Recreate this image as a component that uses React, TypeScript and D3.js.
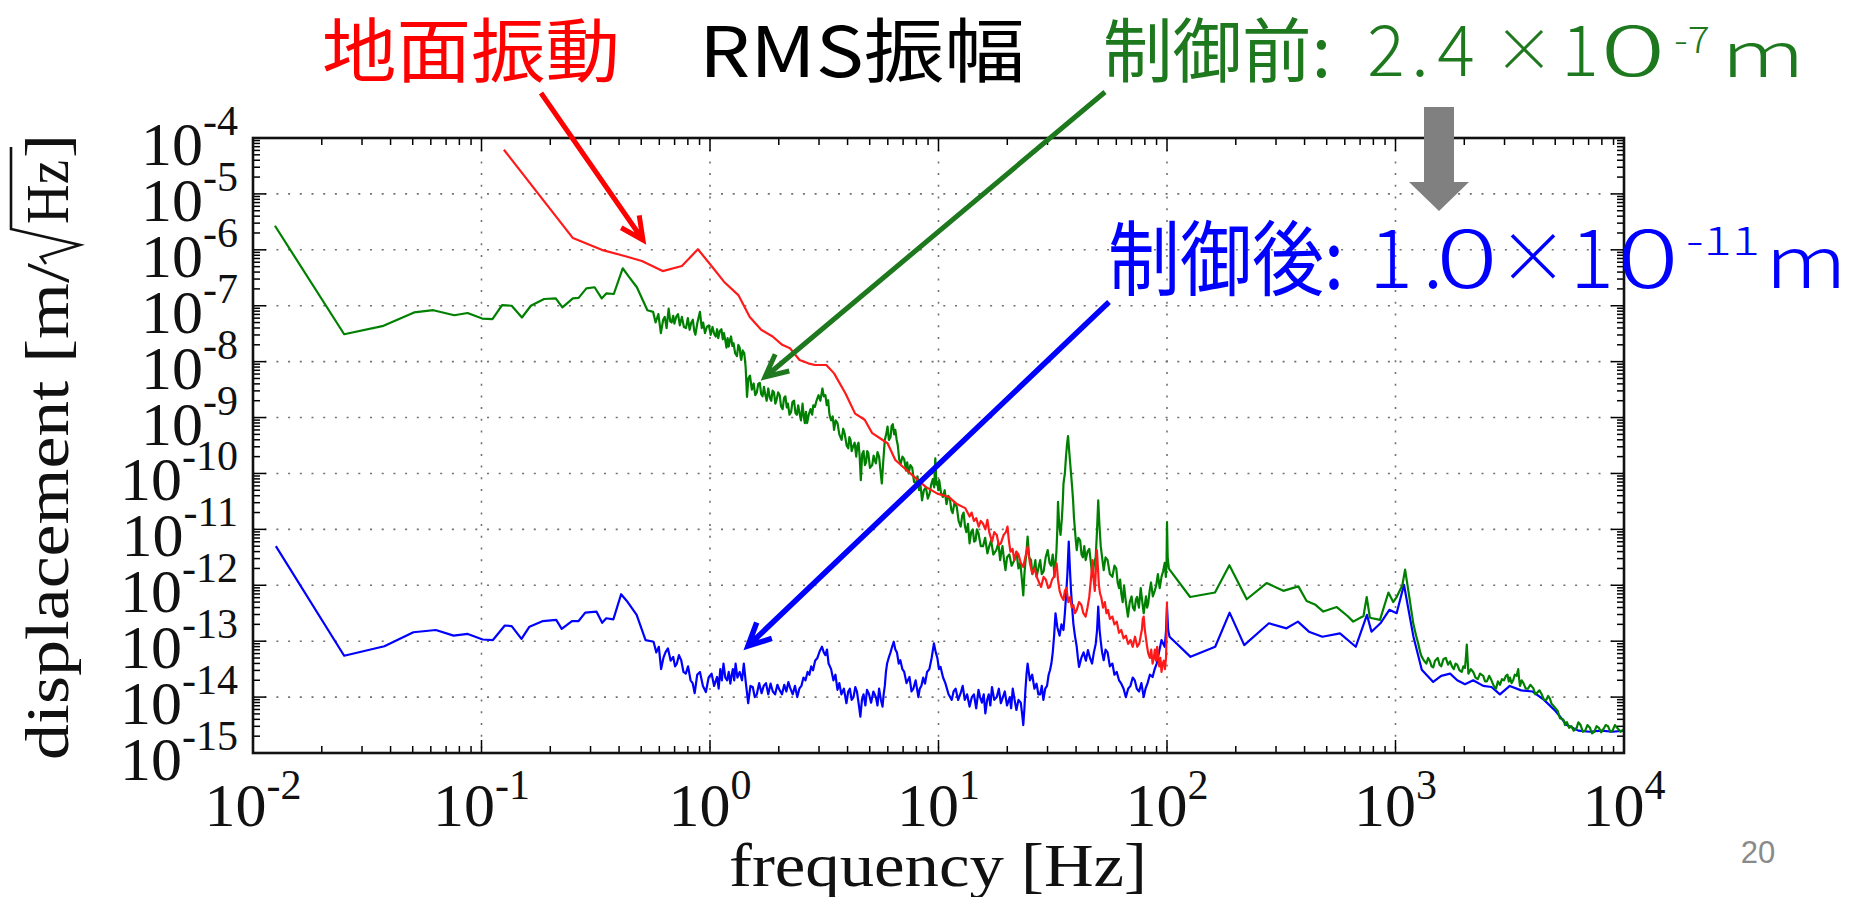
import React from "react";
import * as d3 from "d3";

const WIDTH = 1862;
const HEIGHT = 897;
const PLOT = { left: 253, right: 1624, top: 138, bottom: 753 };

// Axis decades (tick labels are 10^exponent)
const X_EXPONENTS = [-2, -1, 0, 1, 2, 3, 4];
const Y_EXPONENTS = [-4, -5, -6, -7, -8, -9, -10, -11, -12, -13, -14, -15];
const MINOR_MULTIPLES = [2, 3, 4, 5, 6, 7, 8, 9];

// Spectra as [log10 frequency (Hz), log10 displacement (m/√Hz)]
// Ground vibration (red)
const GROUND: [number, number][] = [
  [-0.902, -4.21], [-0.6, -5.79], [-0.474, -6.0], [-0.374, -6.11], [-0.298, -6.2],
  [-0.207, -6.38], [-0.123, -6.29], [-0.053, -5.99], [0.005, -6.28], [0.061, -6.57],
  [0.124, -6.81], [0.174, -7.2], [0.224, -7.43], [0.274, -7.55], [0.316, -7.7],
  [0.35, -7.76], [0.392, -7.97], [0.43, -8.03], [0.459, -8.06], [0.509, -8.06],
  [0.543, -8.21], [0.593, -8.57], [0.635, -8.93], [0.677, -9.04], [0.71, -9.28],
  [0.744, -9.37], [0.777, -9.46], [0.811, -9.76], [0.844, -9.88], [0.894, -10.06],
  [0.944, -10.24], [0.995, -10.36], [1.045, -10.42], [1.078, -10.54], [1.117, -10.62],
  [1.127, -10.7], [1.136, -10.77], [1.145, -10.7], [1.155, -10.85], [1.165, -10.8],
  [1.176, -10.95], [1.185, -10.85], [1.195, -10.9], [1.205, -11.0], [1.214, -10.83],
  [1.222, -11.05], [1.234, -11.22], [1.244, -11.05], [1.255, -11.1], [1.264, -11.28],
  [1.273, -11.25], [1.285, -11.1], [1.295, -11.05], [1.302, -10.95], [1.308, -11.2],
  [1.315, -11.4], [1.324, -11.35], [1.332, -11.55], [1.341, -11.4], [1.35, -11.45],
  [1.36, -11.6], [1.371, -11.67], [1.38, -11.5], [1.39, -11.31], [1.4, -11.6],
  [1.41, -11.79], [1.42, -11.7], [1.43, -11.85], [1.44, -11.95], [1.449, -12.03],
  [1.46, -11.85], [1.47, -11.9], [1.48, -12.05], [1.488, -12.03], [1.497, -11.9],
  [1.505, -11.85], [1.511, -11.7], [1.517, -11.61], [1.523, -11.9], [1.53, -12.1],
  [1.538, -12.2], [1.547, -12.26], [1.553, -12.1], [1.56, -12.05], [1.568, -12.3],
  [1.576, -12.21], [1.583, -12.4], [1.59, -12.35], [1.597, -12.5], [1.605, -12.44],
  [1.615, -12.3], [1.625, -12.35], [1.634, -12.5], [1.644, -12.56], [1.652, -12.4],
  [1.66, -12.2], [1.667, -11.9], [1.674, -11.55], [1.679, -11.9], [1.684, -12.1],
  [1.689, -11.7], [1.693, -11.37], [1.698, -11.7], [1.702, -12.0], [1.707, -12.15],
  [1.712, -12.21], [1.72, -12.4], [1.728, -12.3], [1.735, -12.5], [1.742, -12.44],
  [1.75, -12.6], [1.761, -12.56], [1.77, -12.7], [1.78, -12.65], [1.79, -12.85],
  [1.8, -12.8], [1.81, -12.95], [1.82, -12.9], [1.83, -13.05], [1.84, -12.98],
  [1.85, -13.1], [1.86, -12.92], [1.87, -13.1], [1.879, -13.04], [1.885, -12.9],
  [1.89, -12.8], [1.894, -12.6], [1.898, -12.56], [1.903, -12.8], [1.908, -12.95],
  [1.913, -13.1], [1.918, -13.22], [1.925, -13.3], [1.931, -13.15], [1.937, -13.4],
  [1.942, -13.3], [1.947, -13.15], [1.952, -13.35], [1.957, -13.1], [1.962, -13.3],
  [1.966, -13.45], [1.971, -13.3], [1.976, -13.55], [1.981, -13.4], [1.986, -13.35],
  [1.991, -13.5], [1.996, -13.28], [1.998, -12.9], [2.0, -12.29],
];

// Before control (green)
const BEFORE: [number, number][] = [
  [-1.904, -5.57], [-1.601, -7.51], [-1.429, -7.36], [-1.295, -7.12], [-1.211, -7.08],
  [-1.119, -7.17], [-1.061, -7.13], [-0.997, -7.23], [-0.952, -7.24], [-0.91, -6.99],
  [-0.868, -7.0], [-0.823, -7.21], [-0.784, -7.0], [-0.726, -6.88], [-0.675, -6.87],
  [-0.646, -7.03], [-0.6, -6.87], [-0.575, -6.86], [-0.541, -6.69], [-0.505, -6.67],
  [-0.474, -6.87], [-0.454, -6.78], [-0.421, -6.79], [-0.382, -6.33], [-0.357, -6.47],
  [-0.32, -6.67], [-0.274, -7.08],
  [-0.249, -7.11], [-0.238, -7.3], [-0.226, -7.15], [-0.215, -7.49], [-0.205, -7.25],
  [-0.198, -7.2], [-0.19, -7.4], [-0.181, -7.05], [-0.174, -7.28], [-0.168, -7.3],
  [-0.161, -7.18], [-0.156, -7.32], [-0.148, -7.2], [-0.14, -7.15], [-0.132, -7.35],
  [-0.123, -7.2], [-0.114, -7.38], [-0.105, -7.4], [-0.097, -7.22], [-0.089, -7.43],
  [-0.082, -7.3], [-0.075, -7.25], [-0.069, -7.45], [-0.064, -7.52], [-0.055, -7.3],
  [-0.044, -7.11], [-0.036, -7.4], [-0.03, -7.3], [-0.022, -7.49], [-0.014, -7.38],
  [-0.005, -7.35], [0.003, -7.52], [0.011, -7.38], [0.018, -7.5], [0.025, -7.55],
  [0.031, -7.42], [0.036, -7.58], [0.043, -7.45], [0.05, -7.42], [0.056, -7.6],
  [0.061, -7.49], [0.067, -7.62], [0.072, -7.75], [0.077, -7.58], [0.082, -7.73],
  [0.088, -7.6], [0.092, -7.55], [0.098, -7.72], [0.103, -7.67], [0.11, -7.85],
  [0.118, -7.9], [0.124, -7.7], [0.13, -7.75], [0.134, -7.92], [0.137, -7.97],
  [0.143, -7.8], [0.15, -7.85], [0.156, -8.1], [0.162, -8.63], [0.168, -8.3],
  [0.175, -8.25], [0.183, -8.5], [0.191, -8.39], [0.198, -8.6], [0.205, -8.55],
  [0.211, -8.4], [0.218, -8.38], [0.224, -8.58], [0.23, -8.62], [0.236, -8.45],
  [0.241, -8.57], [0.248, -8.7], [0.255, -8.48], [0.262, -8.65], [0.268, -8.7],
  [0.274, -8.52], [0.28, -8.55], [0.286, -8.75], [0.291, -8.69], [0.298, -8.55],
  [0.305, -8.6], [0.311, -8.8], [0.318, -8.85], [0.324, -8.65], [0.33, -8.62],
  [0.336, -8.82], [0.341, -8.75], [0.348, -8.95], [0.355, -8.9], [0.361, -8.72],
  [0.368, -8.7], [0.374, -8.92], [0.38, -8.95], [0.386, -8.78], [0.392, -8.93],
  [0.398, -9.05], [0.405, -8.75], [0.41, -8.98], [0.415, -9.1], [0.42, -8.9],
  [0.425, -9.1], [0.432, -8.95], [0.44, -8.85], [0.447, -8.95], [0.452, -8.78],
  [0.459, -8.81], [0.466, -8.7], [0.475, -8.6], [0.483, -8.7], [0.492, -8.48],
  [0.498, -8.62], [0.505, -8.6], [0.511, -8.78], [0.517, -8.69], [0.523, -8.95],
  [0.53, -9.05], [0.537, -8.98], [0.543, -9.22], [0.55, -9.05], [0.558, -9.1],
  [0.566, -9.3], [0.576, -9.4], [0.583, -9.2], [0.59, -9.3], [0.598, -9.5],
  [0.605, -9.55], [0.61, -9.35], [0.615, -9.4], [0.62, -9.6], [0.626, -9.52],
  [0.633, -9.45], [0.64, -9.7], [0.645, -9.5], [0.65, -9.45], [0.655, -9.7],
  [0.66, -10.12], [0.666, -9.65], [0.672, -9.6], [0.678, -9.85], [0.683, -9.8],
  [0.688, -9.6], [0.693, -9.64], [0.7, -9.9], [0.71, -9.85], [0.716, -9.68],
  [0.72, -9.75], [0.726, -9.82], [0.733, -9.62], [0.74, -9.7], [0.746, -9.95],
  [0.752, -10.18], [0.758, -9.8], [0.765, -9.4], [0.771, -9.3], [0.777, -9.16],
  [0.783, -9.4], [0.79, -9.35], [0.795, -9.15], [0.8, -9.12], [0.806, -9.3],
  [0.811, -9.22], [0.817, -9.4], [0.822, -9.5], [0.828, -9.75], [0.835, -9.82],
  [0.842, -9.7], [0.85, -9.75], [0.858, -9.95], [0.863, -9.8], [0.869, -10.0],
  [0.877, -9.85], [0.885, -9.9], [0.893, -10.15], [0.902, -10.18], [0.908, -10.05],
  [0.915, -10.3], [0.921, -10.2], [0.928, -10.48], [0.936, -10.3], [0.945, -10.25],
  [0.953, -10.45], [0.961, -10.36], [0.968, -10.2], [0.975, -10.1], [0.981, -10.25],
  [0.986, -9.73], [0.991, -10.2], [0.995, -10.15], [0.999, -10.3], [1.003, -10.12],
  [1.011, -10.35], [1.019, -10.42], [1.027, -10.3], [1.035, -10.55], [1.043, -10.4],
  [1.05, -10.45], [1.056, -10.65], [1.062, -10.71], [1.07, -10.52], [1.08, -10.6],
  [1.088, -10.85], [1.097, -10.95], [1.104, -10.75], [1.11, -10.7], [1.116, -10.95],
  [1.122, -11.05], [1.129, -10.9], [1.136, -11.25], [1.143, -11.05], [1.15, -11.0],
  [1.156, -11.22], [1.162, -11.2], [1.168, -11.0], [1.175, -11.07], [1.185, -11.3],
  [1.195, -11.3], [1.204, -11.15], [1.214, -11.43], [1.222, -11.3], [1.23, -11.2],
  [1.24, -11.45], [1.253, -11.37], [1.262, -11.25], [1.27, -11.55], [1.275, -11.4],
  [1.28, -11.3], [1.287, -11.55], [1.293, -11.73], [1.3, -11.5], [1.31, -11.45],
  [1.32, -11.65], [1.332, -11.55], [1.341, -11.4], [1.35, -11.7], [1.358, -11.6],
  [1.365, -11.9], [1.371, -12.18], [1.376, -11.8], [1.38, -11.6], [1.385, -11.4],
  [1.39, -11.13], [1.397, -11.5], [1.405, -11.55], [1.411, -11.8], [1.418, -11.7],
  [1.424, -11.55], [1.429, -11.85], [1.437, -11.7], [1.445, -11.55], [1.452, -11.8],
  [1.46, -11.75], [1.469, -11.5], [1.478, -11.37], [1.486, -11.6], [1.493, -11.65],
  [1.5, -11.45], [1.508, -11.85], [1.512, -11.6], [1.516, -11.4], [1.52, -11.0],
  [1.523, -10.51], [1.528, -10.9], [1.534, -11.1], [1.54, -10.8], [1.544, -10.5],
  [1.547, -10.18], [1.553, -10.0], [1.558, -9.7], [1.562, -9.5], [1.567, -9.33],
  [1.572, -9.6], [1.578, -9.9], [1.584, -10.2], [1.589, -10.48], [1.593, -10.8],
  [1.597, -11.0], [1.601, -11.2], [1.605, -11.37], [1.612, -11.15], [1.62, -11.2],
  [1.626, -11.45], [1.632, -11.5], [1.638, -11.3], [1.644, -11.55], [1.652, -11.4],
  [1.66, -11.35], [1.667, -11.6], [1.674, -11.85], [1.681, -11.6], [1.688, -11.5],
  [1.694, -11.0], [1.699, -10.48], [1.704, -10.9], [1.71, -11.3], [1.716, -11.5],
  [1.723, -11.73], [1.731, -11.5], [1.74, -11.55], [1.75, -11.8], [1.761, -11.85],
  [1.77, -11.65], [1.778, -11.7], [1.784, -11.95], [1.79, -12.05], [1.795, -11.9],
  [1.8, -12.15], [1.806, -12.3], [1.812, -12.0], [1.82, -12.3], [1.829, -12.56],
  [1.837, -12.3], [1.845, -12.2], [1.851, -12.4], [1.858, -12.45], [1.864, -12.25],
  [1.869, -12.21], [1.877, -12.4], [1.885, -12.05], [1.892, -12.3], [1.898, -12.5],
  [1.903, -12.35], [1.908, -12.2], [1.913, -12.4], [1.918, -12.32], [1.924, -12.1],
  [1.93, -11.95], [1.938, -12.2], [1.947, -12.09], [1.953, -12.0], [1.96, -11.8],
  [1.968, -12.05], [1.976, -11.85], [1.983, -11.75], [1.99, -11.6], [1.995, -11.85],
  [1.998, -11.6], [2.0, -10.87], [2.003, -11.5], [2.008, -11.7], [2.013, -11.73],
  [2.101, -12.21], [2.21, -12.13], [2.273, -11.64], [2.349, -12.25], [2.436, -11.96],
  [2.509, -12.1], [2.575, -12.02], [2.611, -12.28], [2.65, -12.35], [2.684, -12.47],
  [2.743, -12.39], [2.79, -12.55], [2.815, -12.65], [2.86, -12.55], [2.874, -12.21],
  [2.888, -12.58], [2.932, -12.62], [2.969, -12.13], [2.99, -12.3], [3.005, -12.21],
  [3.03, -12.0], [3.042, -11.72], [3.06, -12.2], [3.078, -12.69], [3.09, -12.9],
  [3.1, -13.05], [3.108, -13.2], [3.115, -13.28], [3.125, -13.35], [3.135, -13.4],
  [3.143, -13.3], [3.15, -13.35], [3.158, -13.45], [3.165, -13.47], [3.173, -13.35],
  [3.185, -13.3], [3.193, -13.42], [3.2, -13.45], [3.21, -13.32], [3.22, -13.3],
  [3.23, -13.42], [3.239, -13.36], [3.247, -13.45], [3.255, -13.5], [3.263, -13.4],
  [3.27, -13.42], [3.28, -13.52], [3.29, -13.55], [3.297, -13.45], [3.304, -13.48],
  [3.308, -13.3], [3.312, -13.06], [3.316, -13.35], [3.319, -13.58], [3.33, -13.5],
  [3.34, -13.55], [3.35, -13.65], [3.36, -13.68], [3.37, -13.58], [3.384, -13.62],
  [3.392, -13.72], [3.4, -13.72], [3.41, -13.62], [3.42, -13.7], [3.43, -13.8],
  [3.44, -13.85], [3.448, -13.72], [3.457, -13.78], [3.466, -13.68], [3.475, -13.7],
  [3.483, -13.62], [3.49, -13.6], [3.496, -13.72], [3.501, -13.65], [3.508, -13.75],
  [3.515, -13.7], [3.522, -13.6], [3.53, -13.62], [3.537, -13.5], [3.541, -13.68],
  [3.545, -13.8], [3.552, -13.7], [3.56, -13.75], [3.57, -13.85], [3.58, -13.85],
  [3.59, -13.78], [3.603, -13.84], [3.612, -13.95], [3.62, -13.92], [3.63, -13.88],
  [3.64, -13.95], [3.65, -14.05], [3.66, -14.05], [3.668, -13.98], [3.676, -14.03],
  [3.683, -14.12], [3.69, -14.15], [3.7, -14.2], [3.71, -14.25], [3.72, -14.38],
  [3.734, -14.4], [3.742, -14.5], [3.75, -14.45], [3.76, -14.55], [3.77, -14.52],
  [3.78, -14.6], [3.793, -14.55], [3.8, -14.45], [3.81, -14.5], [3.82, -14.62],
  [3.83, -14.6], [3.84, -14.5], [3.851, -14.55], [3.86, -14.65], [3.87, -14.62],
  [3.88, -14.52], [3.89, -14.55], [3.9, -14.63], [3.909, -14.58], [3.92, -14.5],
  [3.93, -14.52], [3.94, -14.62], [3.95, -14.6], [3.96, -14.5], [3.97, -14.55],
  [3.985, -14.62], [4.0, -14.58],
];

// After control (blue)
const AFTER: [number, number][] = [
  [-1.9, -11.3], [-1.601, -13.26], [-1.425, -13.09], [-1.298, -12.84], [-1.2, -12.8],
  [-1.122, -12.9], [-1.06, -12.87], [-0.995, -12.97], [-0.95, -12.98], [-0.898, -12.72],
  [-0.868, -12.73], [-0.825, -12.96], [-0.79, -12.74], [-0.731, -12.64], [-0.673, -12.62],
  [-0.649, -12.78], [-0.604, -12.64], [-0.575, -12.64], [-0.546, -12.49], [-0.497, -12.47],
  [-0.472, -12.67], [-0.454, -12.59], [-0.423, -12.61], [-0.389, -12.16], [-0.364, -12.28],
  [-0.321, -12.53], [-0.282, -12.98],
  [-0.247, -13.01], [-0.235, -13.2], [-0.224, -13.1], [-0.214, -13.5], [-0.204, -13.3],
  [-0.195, -13.2], [-0.184, -13.13], [-0.172, -13.35], [-0.161, -13.28], [-0.153, -13.45],
  [-0.145, -13.4], [-0.136, -13.25], [-0.126, -13.34], [-0.116, -13.55], [-0.106, -13.58],
  [-0.096, -13.45], [-0.085, -13.7], [-0.076, -13.75], [-0.067, -13.93], [-0.056, -13.6],
  [-0.044, -13.55], [-0.031, -13.8], [-0.018, -13.91], [-0.006, -13.65], [0.007, -13.58],
  [0.018, -13.8], [0.031, -13.64], [0.038, -13.85], [0.045, -13.5], [0.052, -13.7],
  [0.059, -13.4], [0.067, -13.65], [0.075, -13.7], [0.082, -13.55], [0.089, -13.76],
  [0.095, -13.6], [0.1, -13.5], [0.106, -13.7], [0.112, -13.4], [0.12, -13.65],
  [0.13, -13.55], [0.14, -13.7], [0.148, -13.4], [0.157, -13.75], [0.167, -14.11],
  [0.177, -13.8], [0.187, -13.82], [0.196, -14.0], [0.205, -13.95], [0.215, -13.75],
  [0.226, -13.93], [0.235, -13.8], [0.245, -13.75], [0.255, -13.95], [0.265, -13.76],
  [0.275, -13.9], [0.285, -13.95], [0.295, -13.78], [0.304, -13.87], [0.315, -13.95],
  [0.325, -13.78], [0.334, -13.9], [0.343, -13.73], [0.352, -13.85], [0.362, -13.95],
  [0.372, -13.8], [0.382, -14.0], [0.391, -13.85], [0.4, -13.8], [0.409, -13.65],
  [0.418, -13.7], [0.427, -13.55], [0.435, -13.6], [0.443, -13.45], [0.451, -13.52],
  [0.46, -13.35], [0.47, -13.3], [0.48, -13.18], [0.49, -13.1], [0.498, -13.2],
  [0.505, -13.25], [0.512, -13.15], [0.519, -13.4], [0.53, -13.5], [0.54, -13.7],
  [0.549, -13.6], [0.558, -13.87], [0.566, -13.75], [0.575, -13.95], [0.586, -13.85],
  [0.597, -14.11], [0.605, -13.9], [0.612, -13.85], [0.62, -14.05], [0.628, -14.0],
  [0.636, -13.82], [0.643, -13.9], [0.65, -14.1], [0.658, -14.35], [0.665, -14.05],
  [0.672, -13.95], [0.68, -14.15], [0.687, -13.87], [0.696, -13.95], [0.705, -14.1],
  [0.715, -13.9], [0.726, -14.0], [0.733, -14.15], [0.74, -13.85], [0.748, -14.05],
  [0.755, -14.17], [0.76, -13.95], [0.765, -13.8], [0.77, -13.55], [0.775, -13.4],
  [0.782, -13.3], [0.79, -13.2], [0.797, -13.1], [0.804, -13.01], [0.811, -13.15],
  [0.818, -13.2], [0.826, -13.4], [0.833, -13.34], [0.842, -13.5], [0.85, -13.55],
  [0.86, -13.75], [0.873, -13.64], [0.882, -13.9], [0.89, -13.85], [0.9, -13.7],
  [0.912, -14.0], [0.918, -13.85], [0.925, -13.8], [0.933, -13.65], [0.941, -13.76],
  [0.95, -13.55], [0.96, -13.5], [0.97, -13.3], [0.98, -13.04], [0.988, -13.2],
  [0.995, -13.3], [1.002, -13.5], [1.009, -13.46], [1.02, -13.65], [1.03, -13.75],
  [1.044, -13.95], [1.058, -14.05], [1.066, -13.9], [1.075, -13.85], [1.086, -14.05],
  [1.097, -13.93], [1.106, -13.8], [1.115, -14.05], [1.125, -13.95], [1.136, -14.17],
  [1.146, -14.0], [1.155, -13.95], [1.165, -14.2], [1.175, -13.87], [1.182, -14.0],
  [1.19, -14.1], [1.198, -13.95], [1.205, -14.29], [1.213, -14.05], [1.22, -13.95],
  [1.227, -14.15], [1.234, -13.82], [1.244, -14.05], [1.255, -14.0], [1.264, -13.85],
  [1.273, -14.11], [1.282, -14.0], [1.29, -13.9], [1.3, -14.15], [1.312, -14.0],
  [1.318, -14.2], [1.325, -13.85], [1.333, -14.05], [1.341, -14.23], [1.35, -14.05],
  [1.36, -14.1], [1.366, -14.3], [1.371, -14.5], [1.376, -14.2], [1.38, -13.9],
  [1.385, -13.6], [1.39, -13.4], [1.4, -13.7], [1.41, -13.6], [1.42, -13.85],
  [1.429, -13.76], [1.437, -13.95], [1.445, -13.95], [1.452, -13.8], [1.459, -14.05],
  [1.467, -13.85], [1.475, -13.8], [1.482, -13.6], [1.488, -13.52], [1.494, -13.4],
  [1.5, -13.2], [1.506, -12.9], [1.512, -12.5], [1.52, -12.75], [1.53, -12.9],
  [1.538, -12.7], [1.547, -12.8], [1.553, -12.5], [1.558, -12.2], [1.564, -11.8],
  [1.57, -11.22], [1.575, -11.7], [1.58, -12.1], [1.585, -12.4], [1.59, -12.68],
  [1.597, -12.9], [1.605, -13.1], [1.61, -13.3], [1.615, -13.46], [1.625, -13.3],
  [1.635, -13.2], [1.645, -13.35], [1.654, -13.16], [1.663, -13.3], [1.672, -13.4],
  [1.68, -13.2], [1.688, -13.05], [1.694, -12.8], [1.699, -12.38], [1.705, -12.8],
  [1.71, -13.0], [1.716, -13.2], [1.723, -13.34], [1.731, -13.15], [1.74, -13.2],
  [1.75, -13.45], [1.761, -13.4], [1.77, -13.6], [1.78, -13.55], [1.79, -13.7],
  [1.8, -13.76], [1.81, -13.85], [1.82, -14.0], [1.83, -13.85], [1.84, -13.8],
  [1.85, -13.65], [1.859, -13.7], [1.868, -13.85], [1.878, -13.9], [1.888, -13.75],
  [1.898, -14.0], [1.906, -13.85], [1.915, -13.75], [1.925, -13.6], [1.937, -13.64],
  [1.946, -13.5], [1.955, -13.4], [1.965, -13.2], [1.976, -12.98], [1.984, -13.05],
  [1.99, -13.1], [1.996, -12.8], [2.0, -12.38], [2.005, -12.8], [2.011, -12.92],
  [2.103, -13.28], [2.211, -13.1], [2.274, -12.49], [2.338, -13.07], [2.446, -12.68],
  [2.523, -12.77], [2.573, -12.65], [2.621, -12.83], [2.68, -12.92], [2.757, -12.86],
  [2.826, -13.1], [2.875, -12.53], [2.895, -12.83], [2.934, -12.68], [2.973, -12.44],
  [3.005, -12.5], [3.037, -11.99], [3.078, -12.91], [3.115, -13.51], [3.165, -13.73],
  [3.2, -13.62], [3.239, -13.58], [3.27, -13.7], [3.304, -13.77], [3.34, -13.7],
  [3.384, -13.8], [3.42, -13.82], [3.457, -13.95], [3.5, -13.8], [3.55, -13.88],
  [3.6, -13.9], [3.65, -14.05], [3.7, -14.25], [3.75, -14.5], [3.8, -14.6],
  [3.85, -14.62], [3.9, -14.6], [3.95, -14.62], [4.0, -14.6],
];

const SERIF = "'Liberation Serif', 'Times New Roman', serif";
const JP = "'Noto Sans CJK JP', 'Noto Sans', sans-serif";
const TEXT_GREEN = "#1e781e";

function Arrow(props: { x1: number; y1: number; x2: number; y2: number; color: string; width: number }) {
  const { x1, y1, x2, y2, color, width } = props;
  const a = Math.atan2(y2 - y1, x2 - x1);
  const len = 25;
  const spread = (26 * Math.PI) / 180;
  const ax = x2 - len * Math.cos(a - spread);
  const ay = y2 - len * Math.sin(a - spread);
  const bx = x2 - len * Math.cos(a + spread);
  const by = y2 - len * Math.sin(a + spread);
  return (
    <path
      d={`M${x1},${y1}L${x2},${y2}M${ax},${ay}L${x2},${y2}L${bx},${by}`}
      fill="none"
      stroke={color}
      strokeWidth={width}
      strokeLinejoin="miter"
    />
  );
}

export default function App() {
  const x = d3.scaleLog().domain([1e-2, 1e4]).range([PLOT.left, PLOT.right]);
  const y = d3.scaleLog().domain([1e-15, 1e-4]).range([PLOT.bottom, PLOT.top]);
  const line = d3
    .line<[number, number]>()
    .x((d) => x(10 ** d[0]))
    .y((d) => y(10 ** d[1]));

  const xMinor: number[] = [];
  for (let e = -2; e < 4; e++) MINOR_MULTIPLES.forEach((m) => xMinor.push(m * 10 ** e));
  const yMinor: number[] = [];
  for (let e = -15; e < -4; e++) MINOR_MULTIPLES.forEach((m) => yMinor.push(m * 10 ** e));

  const MAJ = 13;
  const MIN = 7;

  return (
    <svg
      width={WIDTH}
      height={HEIGHT}
      viewBox={`0 0 ${WIDTH} ${HEIGHT}`}
      style={{ position: "fixed", left: 0, top: 0, background: "#fff" }}
    >
      <defs>
        <clipPath id="plot-area">
          <rect x={PLOT.left} y={PLOT.top} width={PLOT.right - PLOT.left} height={PLOT.bottom - PLOT.top} />
        </clipPath>
      </defs>
      <rect x={0} y={0} width={WIDTH} height={HEIGHT} fill="#fff" />

      {/* grid */}
      <g stroke="#707070" strokeWidth={1.6} strokeDasharray="2 9.7" fill="none">
        {X_EXPONENTS.slice(1, -1).map((e) => (
          <line key={`gx${e}`} x1={x(10 ** e)} x2={x(10 ** e)} y1={PLOT.top} y2={PLOT.bottom} />
        ))}
        {Y_EXPONENTS.slice(1, -1).map((e) => (
          <line key={`gy${e}`} x1={PLOT.left} x2={PLOT.right} y1={y(10 ** e)} y2={y(10 ** e)} />
        ))}
      </g>

      {/* spectra */}
      <g clipPath="url(#plot-area)" fill="none" strokeWidth={2.2} strokeLinejoin="round">
        <path d={line(AFTER) ?? ""} stroke="#0000ff" />
        <path d={line(BEFORE) ?? ""} stroke="#008000" />
        <path d={line(GROUND) ?? ""} stroke="#ff1a1a" />
      </g>

      {/* ticks */}
      <g stroke="#000" strokeWidth={1.5}>
        {X_EXPONENTS.map((e) => {
          const px = x(10 ** e);
          return (
            <g key={`tx${e}`}>
              <line x1={px} x2={px} y1={PLOT.bottom} y2={PLOT.bottom - MAJ} />
              <line x1={px} x2={px} y1={PLOT.top} y2={PLOT.top + MAJ} />
            </g>
          );
        })}
        {xMinor.map((v, i) => {
          const px = x(v);
          return (
            <g key={`mx${i}`}>
              <line x1={px} x2={px} y1={PLOT.bottom} y2={PLOT.bottom - MIN} />
              <line x1={px} x2={px} y1={PLOT.top} y2={PLOT.top + MIN} />
            </g>
          );
        })}
        {Y_EXPONENTS.map((e) => {
          const py = y(10 ** e);
          return (
            <g key={`ty${e}`}>
              <line x1={PLOT.left} x2={PLOT.left + MAJ} y1={py} y2={py} />
              <line x1={PLOT.right} x2={PLOT.right - MAJ} y1={py} y2={py} />
            </g>
          );
        })}
        {yMinor.map((v, i) => {
          const py = y(v);
          return (
            <g key={`my${i}`}>
              <line x1={PLOT.left} x2={PLOT.left + MIN} y1={py} y2={py} />
              <line x1={PLOT.right} x2={PLOT.right - MIN} y1={py} y2={py} />
            </g>
          );
        })}
      </g>

      {/* frame */}
      <rect
        x={PLOT.left}
        y={PLOT.top}
        width={PLOT.right - PLOT.left}
        height={PLOT.bottom - PLOT.top}
        fill="none"
        stroke="#111"
        strokeWidth={2.6}
      />

      {/* tick labels */}
      <g fontFamily={SERIF} fill="#111">
        {X_EXPONENTS.map((e) => (
          <text key={`lx${e}`} x={x(10 ** e)} y={826} fontSize={62} textAnchor="middle">
            10
            <tspan fontSize={42} dy={-27}>
              {`${e}`}
            </tspan>
          </text>
        ))}
        {Y_EXPONENTS.map((e) => (
          <text key={`ly${e}`} x={238} y={y(10 ** e) + 27} fontSize={62} textAnchor="end">
            10
            <tspan fontSize={42} dy={-30}>
              {`${e}`}
            </tspan>
          </text>
        ))}
      </g>

      {/* axis titles */}
      <text x={729} y={886} fontFamily={SERIF} fontSize={62} fill="#111" textLength={418} lengthAdjust="spacingAndGlyphs">
        frequency [Hz]
      </text>
      <g transform="translate(68,760) rotate(-90)" fontFamily={SERIF} fontSize={62} fill="#111">
        <text x={0} y={0} textLength={497} lengthAdjust="spacingAndGlyphs">
          displacement [m/
        </text>
        <path d="M496,-22L503,-27L515,12L531,-57H613" fill="none" stroke="#111" strokeWidth={2.6} strokeLinejoin="miter" />
        <text x={536} y={0} textLength={64} lengthAdjust="spacingAndGlyphs">
          Hz
        </text>
        <text x={602} y={0} textLength={24} lengthAdjust="spacingAndGlyphs">
          ]
        </text>
      </g>

      {/* annotations */}
      <g fontFamily={JP}>
        <text x={322} y={77} fontSize={70} fill="#ff0000" textLength={298} lengthAdjust="spacingAndGlyphs">
          地面振動
        </text>
        <text x={699} y={77} fontSize={70} fill="#000" textLength={326} lengthAdjust="spacingAndGlyphs">
          RMS振幅
        </text>

        <g fill={TEXT_GREEN}>
          <text x={1103} y={77} fontSize={70} textLength={228} lengthAdjust="spacingAndGlyphs">
            制御前:
          </text>
          <g fontWeight={300}>
            <text x={1386} y={76} fontSize={70} textAnchor="middle">2</text>
            <text x={1420} y={76} fontSize={70} textAnchor="middle">.</text>
            <text x={1456} y={76} fontSize={70} textAnchor="middle">4</text>
            <text x={1524} y={72} fontSize={60} textAnchor="middle">×</text>
            <text x={1580} y={76} fontSize={70} textAnchor="middle">1</text>
            <text x={1633} y={76} fontSize={70} textAnchor="middle" textLength={66} lengthAdjust="spacingAndGlyphs">0</text>
            <text x={1674} y={53} fontSize={36} textLength={36} lengthAdjust="spacingAndGlyphs">-7</text>
            <text x={1721} y={77} fontSize={62} textLength={84} lengthAdjust="spacingAndGlyphs">m</text>
          </g>
        </g>

        <g fill="#0000ff">
          <text x={1108} y={289} fontSize={82} textLength={236} lengthAdjust="spacingAndGlyphs">
            制御後:
          </text>
          <g fontWeight={300}>
            <text x={1391} y={288} fontSize={82} textAnchor="middle">1</text>
            <text x={1433} y={288} fontSize={82} textAnchor="middle">.</text>
            <text x={1467} y={288} fontSize={82} textAnchor="middle" textLength={62} lengthAdjust="spacingAndGlyphs">0</text>
            <text x={1533} y={283} fontSize={70} textAnchor="middle">×</text>
            <text x={1592} y={288} fontSize={82} textAnchor="middle">1</text>
            <text x={1648} y={288} fontSize={82} textAnchor="middle" textLength={62} lengthAdjust="spacingAndGlyphs">0</text>
            <text x={1686} y={255} fontSize={40} textLength={74} lengthAdjust="spacingAndGlyphs">-11</text>
            <text x={1765} y={288} fontSize={72} textLength={82} lengthAdjust="spacingAndGlyphs">m</text>
          </g>
        </g>
      </g>

      {/* pointer arrows */}
      <Arrow x1={541} y1={93} x2={643} y2={240} color="#ff0000" width={5} />
      <Arrow x1={1105} y1={92} x2={765} y2={377} color={TEXT_GREEN} width={5} />
      <Arrow x1={1109} y1={302} x2={748} y2={646} color="#0000ff" width={5.5} />

      {/* reduction arrow */}
      <path d="M1424,107H1454V182H1469L1439,211L1409,182H1424Z" fill="#808080" />

      {/* page number */}
      <text x={1758} y={863} fontFamily="'Liberation Sans Narrow', 'Liberation Sans', sans-serif" fontSize={31} fill="#8a8a8a" textAnchor="middle">
        20
      </text>
    </svg>
  );
}
